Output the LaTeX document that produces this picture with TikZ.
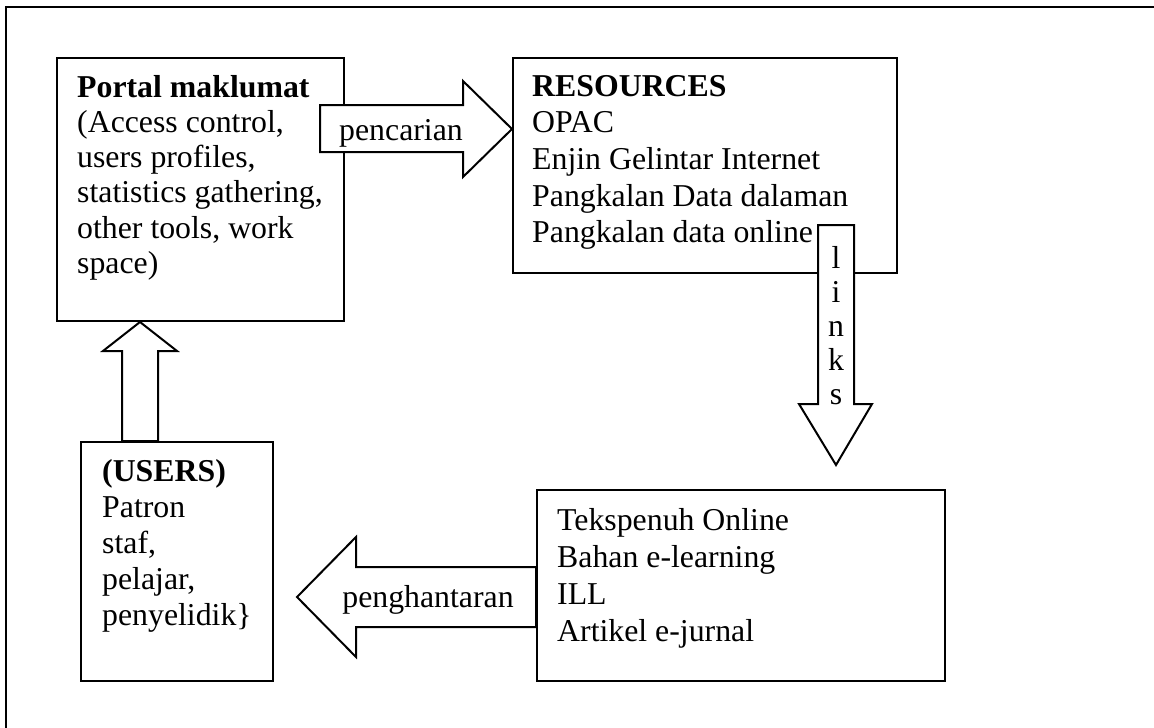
\documentclass[tikz,border=0pt]{standalone}
\usepackage{fontspec}
\setmainfont{Liberation Serif}
\usepackage{tikz}

\begin{document}
\begin{tikzpicture}[x=1pt,y=-1pt,
        box/.style={draw=black, line width=2.4pt, anchor=north west, inner sep=0pt},
        boxtext/.style={anchor=north west, align=left, inner sep=0pt},
        blockarrow/.style={draw=black, fill=white, line width=2pt, line join=miter},
        arrowtext/.style={inner sep=0pt, font=\fontsize{31.8}{34}\selectfont}]

            \useasboundingbox (0,0) rectangle (1154,728);
            % frame
            \draw [black, line width=2pt] (6,728) -- (6,7) -- (1154,7);

            % boxes
            \node [box, minimum width=287pt, minimum height=263pt] (portal) at (56,57) {};
            \node [box, minimum width=384pt, minimum height=215pt] (resources) at (512,57) {};
            \node [box, minimum width=408pt, minimum height=191pt] (fulltext) at (536,489) {};
            \node [box, minimum width=192pt, minimum height=239pt] (users) at (80,441) {};

            % label
            \node [boxtext, font=\fontsize{31.8}{35.2}\selectfont] (portaltxt) at (77,75)
                {\textbf{Portal maklumat}\\(Access control,\\users profiles,\\statistics gathering,\\other tools, work\\space)};
            \node [boxtext, font=\fontsize{31.8}{36.6}\selectfont] (resourcestxt) at (532,75)
                {\textbf{RESOURCES}\\OPAC\\Enjin Gelintar Internet\\Pangkalan Data dalaman\\Pangkalan data online};
            \node [boxtext, font=\fontsize{31.8}{37.2}\selectfont] (fulltexttxt) at (557,508)
                {Tekspenuh Online\\Bahan e-learning\\ILL\\Artikel e-jurnal};
            \node [boxtext, font=\fontsize{31.8}{36}\selectfont] (userstxt) at (102,459)
                {\textbf{(USERS)}\\Patron\\staf,\\pelajar,\\penyelidik\}};

            % ->
            \draw [blockarrow] (320,105) -- (463,105) -- (463,81) -- (512,129)
                -- (463,177) -- (463,152) -- (320,152) -- cycle;
            \node [arrowtext, anchor=base] (cari) at (401,140) {pencarian};

            % |
            \draw [blockarrow] (818,225) -- (854,225) -- (854,404) -- (872,404)
                -- (836,465) -- (799,404) -- (818,404) -- cycle;
            \node [arrowtext, anchor=north, align=center] (links) at (836,246) {l\\i\\n\\k\\s};

            % <-
            \draw [blockarrow] (536,567) -- (356,567) -- (356,537) -- (297,597)
                -- (356,657) -- (356,627) -- (536,627) -- cycle;
            \node [arrowtext, anchor=base] (hantar) at (428,607) {penghantaran};

            % ^
            \draw [blockarrow] (122,441) -- (122,351) -- (103,351) -- (140,322)
                -- (177,351) -- (158,351) -- (158,441) -- cycle;

\end{tikzpicture}
\end{document}
